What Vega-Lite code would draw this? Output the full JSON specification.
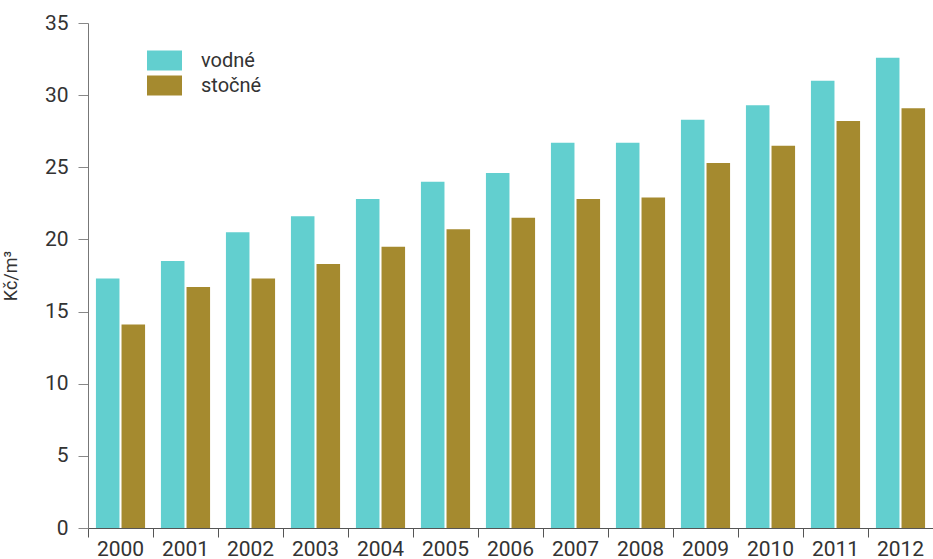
{
  "$schema": "https://vega.github.io/schema/vega-lite/v6.json",
  "width": 845,
  "height": 505,
  "autosize": {"type": "none"},
  "padding": {"left": 88, "top": 23, "right": 0, "bottom": 31},
  "background": "white",
  "data": {
    "values": [
      {"rok": "2000", "druh": "vodné", "cena": 17.3},
      {"rok": "2000", "druh": "stočné", "cena": 14.1},
      {"rok": "2001", "druh": "vodné", "cena": 18.5},
      {"rok": "2001", "druh": "stočné", "cena": 16.7},
      {"rok": "2002", "druh": "vodné", "cena": 20.5},
      {"rok": "2002", "druh": "stočné", "cena": 17.3},
      {"rok": "2003", "druh": "vodné", "cena": 21.6},
      {"rok": "2003", "druh": "stočné", "cena": 18.3},
      {"rok": "2004", "druh": "vodné", "cena": 22.8},
      {"rok": "2004", "druh": "stočné", "cena": 19.5},
      {"rok": "2005", "druh": "vodné", "cena": 24.0},
      {"rok": "2005", "druh": "stočné", "cena": 20.7},
      {"rok": "2006", "druh": "vodné", "cena": 24.6},
      {"rok": "2006", "druh": "stočné", "cena": 21.5},
      {"rok": "2007", "druh": "vodné", "cena": 26.7},
      {"rok": "2007", "druh": "stočné", "cena": 22.8},
      {"rok": "2008", "druh": "vodné", "cena": 26.7},
      {"rok": "2008", "druh": "stočné", "cena": 22.9},
      {"rok": "2009", "druh": "vodné", "cena": 28.3},
      {"rok": "2009", "druh": "stočné", "cena": 25.3},
      {"rok": "2010", "druh": "vodné", "cena": 29.3},
      {"rok": "2010", "druh": "stočné", "cena": 26.5},
      {"rok": "2011", "druh": "vodné", "cena": 31.0},
      {"rok": "2011", "druh": "stočné", "cena": 28.2},
      {"rok": "2012", "druh": "vodné", "cena": 32.6},
      {"rok": "2012", "druh": "stočné", "cena": 29.1}
    ]
  },
  "mark": {"type": "bar"},
  "encoding": {
    "x": {
      "field": "rok",
      "type": "nominal",
      "scale": {"paddingInner": 0, "paddingOuter": 0},
      "axis": {
        "title": null,
        "labelAngle": 0,
        "labelFont": "Roboto",
        "labelFontSize": 21,
        "labelColor": "#333333",
        "labelPadding": 1,
        "tickSize": 9,
        "tickColor": "#555555",
        "domainColor": "#555555",
        "bandPosition": 1,
        "tickExtra": true
      }
    },
    "xOffset": {
      "field": "druh",
      "type": "nominal",
      "sort": ["vodné", "stočné"],
      "scale": {"paddingInner": 0.08, "paddingOuter": 0.31}
    },
    "y": {
      "field": "cena",
      "type": "quantitative",
      "scale": {"domain": [0, 35], "nice": false},
      "axis": {
        "title": "Kč/m³",
        "titleFont": "Roboto",
        "titleFontSize": 18,
        "titleFontWeight": "normal",
        "titleColor": "#333333",
        "titlePadding": 24,
        "values": [0, 5, 10, 15, 20, 25, 30, 35],
        "grid": false,
        "labelFont": "Roboto",
        "labelFontSize": 21,
        "labelColor": "#333333",
        "labelPadding": 10,
        "tickSize": 10,
        "tickColor": "#888888",
        "domainColor": "#777777"
      }
    },
    "color": {
      "field": "druh",
      "type": "nominal",
      "sort": ["vodné", "stočné"],
      "scale": {"domain": ["vodné", "stočné"], "range": ["#62cfcf", "#a58a2f"]},
      "legend": {
        "title": null,
        "orient": "none",
        "legendX": 62,
        "legendY": 23,
        "padding": 0,
        "symbolType": "M-1.207,-0.69H1.207V0.69H-1.207Z",
        "symbolSize": 841,
        "symbolStrokeWidth": 0,
        "symbolOpacity": 1,
        "rowPadding": 0,
        "labelOffset": 22,
        "labelFont": "Roboto",
        "labelFontSize": 20,
        "labelColor": "#333333"
      }
    }
  },
  "config": {"view": {"stroke": null}}
}
